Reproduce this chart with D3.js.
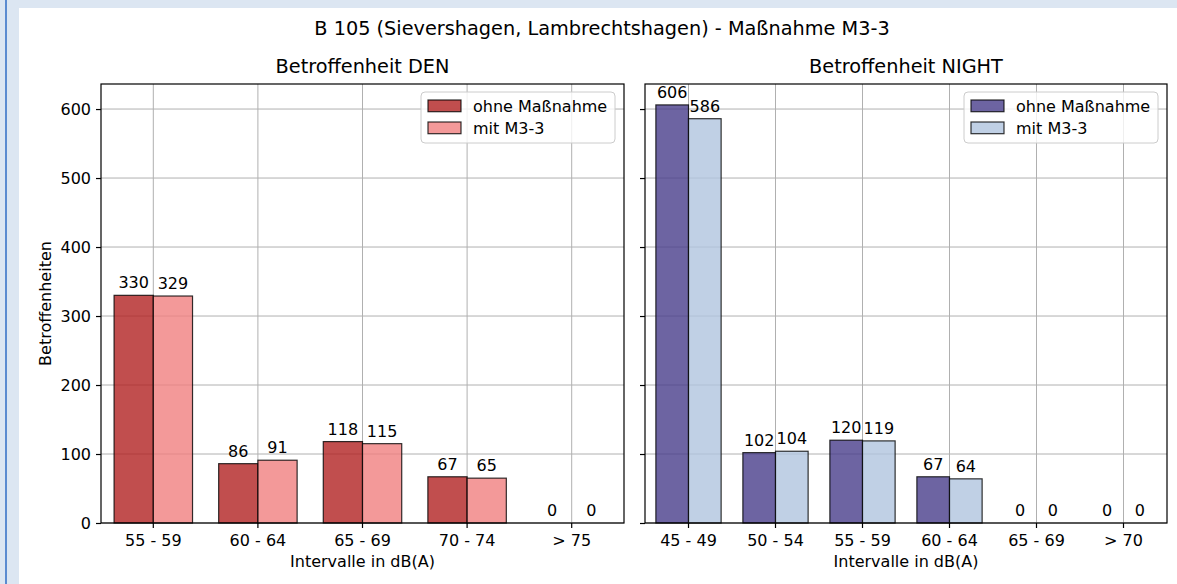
<!DOCTYPE html>
<html>
<head>
<meta charset="utf-8">
<script src="https://cdn.jsdelivr.net/npm/d3@7"></script>
<style>
  body { margin: 0; background: #fff; }
  svg { display: block; font-family: 'DejaVu Sans', sans-serif; }
</style>
</head>
<body>
<div id="chart"></div>
<script>
// ---------- data ----------
const denCategories = ['55 - 59', '60 - 64', '65 - 69', '70 - 74', '> 75'];
const denOhne = [330, 86, 118, 67, 0];
const denMit = [329, 91, 115, 65, 0];

const nightCategories = ['45 - 49', '50 - 54', '55 - 59', '60 - 64', '65 - 69', '> 70'];
const nightOhne = [606, 102, 120, 67, 0, 0];
const nightMit = [586, 104, 119, 64, 0, 0];

const yTicks = [0, 100, 200, 300, 400, 500, 600];
const seriesNames = ['ohne Maßnahme', 'mit M3-3'];

const width = 1177, height = 584;
const fs = '16px', titleFs = '19.3px';
const svg = d3.select('#chart').append('svg')
  .attr('width', width)
  .attr('height', height);

// window frame (light blue band + line)
svg.append('rect').attr('x', 0).attr('y', 0).attr('width', width).attr('height', 8).attr('fill', '#dce6f2');
svg.append('rect').attr('x', 0).attr('y', 0).attr('width', 19).attr('height', height).attr('fill', '#dce6f2');
svg.append('rect').attr('x', 5).attr('y', 0).attr('width', 2).attr('height', height).attr('fill', '#5b8bd0');

// shared y scale
const plotTop = 84, plotBottom = 523;
const yMax = d3.max(nightOhne.concat(denOhne, denMit, nightMit)) * 1.05;
const y = d3.scaleLinear().domain([0, yMax]).range([plotBottom, plotTop]);

svg.append('text')
  .attr('x', 602).attr('y', 35)
  .attr('text-anchor', 'middle')
  .style('font-size', titleFs)
  .text('B 105 (Sievershagen, Lambrechtshagen) - Maßnahme M3-3');

function drawPanel(opts) {
  const x = d3.scaleBand()
    .domain(opts.categories)
    .range([opts.left, opts.right])
    .padding(0);
  const bw = x.bandwidth();
  const barW = bw * 0.375;
  const g = svg.append('g');

  // grid
  g.append('g').selectAll('line').data(yTicks).join('line')
    .attr('x1', opts.left).attr('x2', opts.right)
    .attr('y1', d => y(d)).attr('y2', d => y(d))
    .attr('stroke', '#b0b0b0').attr('stroke-width', 1);
  g.append('g').selectAll('line').data(opts.categories).join('line')
    .attr('x1', d => x(d) + bw / 2).attr('x2', d => x(d) + bw / 2)
    .attr('y1', plotTop).attr('y2', plotBottom)
    .attr('stroke', '#b0b0b0').attr('stroke-width', 1);

  const series = [
    { vals: opts.ohne, color: opts.colors[0], off: -barW },
    { vals: opts.mit, color: opts.colors[1], off: 0 }
  ];

  series.forEach(s => {
    const rows = opts.categories.map((c, i) => ({ c: c, v: s.vals[i] }));
    g.append('g').selectAll('rect').data(rows).join('rect')
      .attr('x', d => x(d.c) + bw / 2 + s.off)
      .attr('y', d => y(d.v))
      .attr('width', barW)
      .attr('height', d => y(0) - y(d.v))
      .attr('fill', s.color)
      .attr('fill-opacity', 0.8)
      .attr('stroke', '#000')
      .attr('stroke-opacity', 0.8)
      .attr('stroke-width', 1.2);
    g.append('g').selectAll('text').data(rows).join('text')
      .attr('x', d => x(d.c) + bw / 2 + s.off + barW / 2)
      .attr('y', d => y(d.v) - 7)
      .attr('text-anchor', 'middle')
      .style('font-size', fs)
      .text(d => d.v);
  });

  // axes
  const yAxis = g.append('g')
    .attr('transform', `translate(${opts.left},0)`)
    .call(d3.axisLeft(y).tickValues(yTicks).tickSize(5).tickPadding(5)
      .tickFormat(opts.showY ? d3.format('d') : ''));
  yAxis.select('.domain').remove();
  yAxis.selectAll('.tick line').attr('stroke', '#000').attr('stroke-width', 1.2);
  yAxis.selectAll('text').style('font-size', fs).style('font-family', 'DejaVu Sans').attr('fill', '#000');

  const xAxis = g.append('g')
    .attr('transform', `translate(0,${plotBottom})`)
    .call(d3.axisBottom(x).tickSize(5).tickPadding(7));
  xAxis.select('.domain').remove();
  xAxis.selectAll('.tick line').attr('stroke', '#000').attr('stroke-width', 1.2);
  xAxis.selectAll('text').style('font-size', fs).style('font-family', 'DejaVu Sans').attr('fill', '#000');

  g.append('rect')
    .attr('x', opts.left).attr('y', plotTop)
    .attr('width', opts.right - opts.left).attr('height', plotBottom - plotTop)
    .attr('fill', 'none').attr('stroke', '#000').attr('stroke-width', 1.2);

  const cx = (opts.left + opts.right) / 2;
  g.append('text').attr('x', cx).attr('y', 73)
    .attr('text-anchor', 'middle').style('font-size', titleFs)
    .text(opts.title);
  g.append('text').attr('x', cx).attr('y', 567)
    .attr('text-anchor', 'middle').style('font-size', fs)
    .text('Intervalle in dB(A)');

  // legend
  const lw = 194, lh = 51;
  const lx = opts.right - 9 - lw, ly = plotTop + 8;
  const leg = g.append('g').attr('transform', `translate(${lx},${ly})`);
  leg.append('rect').attr('width', lw).attr('height', lh).attr('rx', 4)
    .attr('fill', '#fff').attr('fill-opacity', 0.8)
    .attr('stroke', '#cccccc').attr('stroke-width', 1);
  seriesNames.forEach((n, i) => {
    leg.append('rect')
      .attr('x', 7).attr('y', 8 + i * 22)
      .attr('width', 33).attr('height', 11.7)
      .attr('fill', opts.colors[i]).attr('fill-opacity', 0.8)
      .attr('stroke', '#000').attr('stroke-opacity', 0.8).attr('stroke-width', 1.2);
    leg.append('text')
      .attr('x', 52).attr('y', 19.5 + i * 22)
      .style('font-size', fs)
      .text(n);
  });
}

drawPanel({
  categories: denCategories, ohne: denOhne, mit: denMit,
  left: 101, right: 624, title: 'Betroffenheit DEN',
  colors: ['firebrick', 'lightcoral'], showY: true
});
drawPanel({
  categories: nightCategories, ohne: nightOhne, mit: nightMit,
  left: 645, right: 1167, title: 'Betroffenheit NIGHT',
  colors: ['darkslateblue', 'lightsteelblue'], showY: false
});

svg.append('text')
  .attr('transform', `translate(51,${(plotTop + plotBottom) / 2}) rotate(-90)`)
  .attr('text-anchor', 'middle')
  .style('font-size', fs)
  .text('Betroffenheiten');
</script>
</body>
</html>
